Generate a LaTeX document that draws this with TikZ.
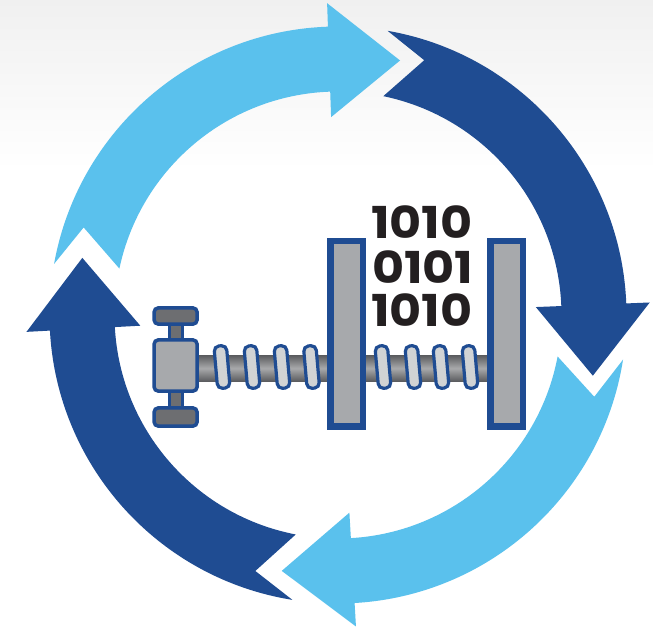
\documentclass[tikz,border=0pt]{standalone}
\usepackage{fontspec}
\newfontfamily\digitfont{Poppins}
\definecolor{lightb}{RGB}{90,193,237}
\definecolor{darkb}{RGB}{31,76,146}
\definecolor{steel}{RGB}{167,169,172}
\definecolor{darksteel}{RGB}{109,110,113}
\definecolor{threadgray}{RGB}{209,211,212}
\definecolor{rodedge}{RGB}{92,93,96}
\definecolor{rodmid}{RGB}{168,169,171}
\definecolor{ink}{RGB}{35,31,32}
\definecolor{haze}{RGB}{240,240,240}
\begin{document}
\begin{tikzpicture}[x=1pt,y=-1pt,
  rim/.style={draw=darkb, line width=3.5pt, rounded corners=4.5pt},
  stem/.style={draw=darkb, line width=3pt, fill=darksteel},
  coil/.style={draw=darkb, fill=threadgray, line width=3.2pt, rounded corners=5pt,
    minimum width=12.5pt, minimum height=42.5pt, inner sep=0pt, rotate=5},
  digits/.style={font=\digitfont\bfseries\fontsize{44}{44}\selectfont,
    text=ink, inner sep=0pt, anchor=west}
]
\useasboundingbox (0,0) rectangle (653,632);
% background with a soft grey band at the top
\fill[white] (0,0) rectangle (653,632);
\shade[top color=haze, bottom color=white] (0,0) rectangle (653,170);

% four curved arrows forming the cycle
\begin{scope}[shift={(338,315)}]
\foreach \b/\c in {92.0/lightb, 2.3/darkb, -86.7/lightb, 183.1/darkb}{
  \pgfmathsetmacro\ta{-(\b)-77.8}
  \pgfmathsetmacro\tb{-(\b)}
  \pgfmathsetmacro\tt{-(\b)+15.7}
  \pgfmathsetmacro\ti{-(\b)-76}
  \pgfmathsetmacro\tn{-(\b)-69}
  \fill[\c] (\ta:288.5) arc[start angle=\ta, end angle=\tb, radius=288.5]
    -- (\tb:312) -- (\tt:262) -- (\tb:198) -- (\tb:223.5)
    arc[start angle=\tb, end angle=\ti, radius=223.5]
    -- (\tn:269) -- cycle;
}
\end{scope}

% threaded rod
\shade[top color=rodedge, bottom color=rodedge, middle color=rodmid]
  (197,355.5) rectangle (328,381);
\shade[top color=rodedge, bottom color=rodedge, middle color=rodmid]
  (365,355.5) rectangle (489,381);

% handle
\draw[stem] (169.5,320) rectangle (182,345);
\draw[stem] (169.5,386) rectangle (182,412);
\draw[rim, fill=darksteel] (154,307.8) rectangle (197.2,324.2);
\draw[rim, fill=steel] (154,339.8) rectangle (197.2,391.2);
\draw[rim, fill=darksteel] (154,407.8) rectangle (197.2,426.2);

% thread turns
\foreach \x [count=\i] in {222,252,282,311.5}
  \node[coil] (tl\i) at (\x,367) {};
\foreach \x [count=\i] in {383,413,441,470}
  \node[coil] (tr\i) at (\x,367) {};

% clamp jaws
\fill[darkb] (327.3,237.7) rectangle (365.7,429.5);
\fill[steel] (333.8,244.3) rectangle (359.5,423);
\fill[darkb] (487.3,237.7) rectangle (525.7,429.5);
\fill[steel] (494,244.3) rectangle (520,423);

% binary data
\node[digits] (row1) at (371,222.5) {\scalebox{1.12}[1]{1010}};
\node[digits] (row2) at (372,267) {\scalebox{1.12}[1]{0101}};
\node[digits] (row3) at (371,310) {\scalebox{1.12}[1]{1010}};
\end{tikzpicture}
\end{document}
